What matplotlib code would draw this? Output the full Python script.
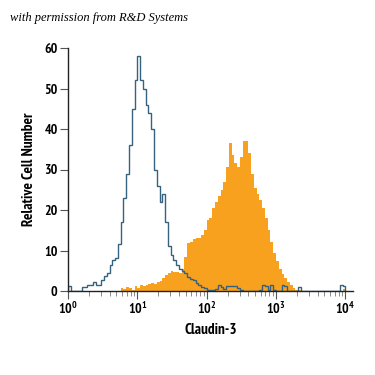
import numpy as np
import matplotlib
matplotlib.use("Agg")
import matplotlib.pyplot as plt
from matplotlib.ticker import FixedLocator, LogLocator, NullFormatter

# channel grid: 100 log channels over 4 decades
decade_step = 0.04
n_channels = 100

# isotype control (open, blue)
control_counts = [
    1.2, 0, 0, 0, 0, 1.0, 1.0, 1.5, 1.5, 2.3,
    1.5, 1.5, 2.7, 3.7, 4.5, 6.4, 7.7, 8.1, 11.5, 17,
    23, 29, 36, 45, 52, 58, 52, 50, 46, 44,
    40, 30, 26, 22, 24, 17, 11, 9, 7.7, 6.4,
    5.5, 5.0, 4.4, 3.5, 3.0, 2.7, 1.9, 1.5, 1.0, 0.7,
    0.3, 0.3, 0.3, 0.5, 1.5, 1.0, 0.5, 1.2, 1.2, 1.2,
    1.2, 0.8, 0.3, 0, 0, 0, 0, 0, 0, 0.3,
    1.5, 1.2, 0.3, 1.5, 0.3, 0, 0, 1.5, 1.2, 0,
    0, 0, 0, 1.0, 0, 0, 0, 0, 0, 0,
    0, 0, 0, 0, 0, 0, 0, 0, 1.5, 1.2,
]

# Claudin-3 stained (filled, orange)
claudin_counts = [
    0, 0, 0, 0, 0, 0, 0, 0, 0, 0,
    0, 0, 0, 0, 0, 0, 0, 0, 0, 0.8,
    0.5, 1.0, 0.8, 0.3, 1.2, 0.8, 1.5, 1.2, 1.5, 1.8,
    2.0, 1.8, 2.3, 2.5, 3.2, 4.0, 4.5, 5.0, 4.8, 4.6,
    4.4, 5.5, 8.5, 11.8, 12.2, 12.8, 13.0, 13.2, 13.8, 15.0,
    17.5, 18.0, 20.5, 22.0, 23.5, 25.0, 27.0, 30.5, 36.5, 33.5,
    31.5, 30.5, 33.0, 37.0, 37.0, 34.0, 29.0, 25.5, 24.0, 22.5,
    20.5, 18.0, 15.0, 12.0, 9.5, 7.3, 5.5, 4.2, 3.2, 2.2,
    1.4, 0.7, 0.3, 0.2, 0, 0, 0, 0, 0, 0,
    0, 0, 0, 0, 0, 0, 0, 0, 0, 0.5,
]

y_ticks = [0, 10, 20, 30, 40, 50, 60]
x_decades = [0, 1, 2, 3, 4]

narrow = ['PT Sans Narrow', 'Open Sans Condensed', 'DejaVu Sans']
plt.rcParams['font.family'] = narrow
plt.rcParams['mathtext.fontset'] = 'custom'
plt.rcParams['mathtext.rm'] = 'PT Sans Narrow'
plt.rcParams['mathtext.bf'] = 'PT Sans Narrow:bold'

edges = 10 ** (np.arange(n_channels + 1) * decade_step)

fig = plt.figure(figsize=(3.75, 3.75), dpi=100)
ax = fig.add_axes([68 / 375, 1 - 291 / 375, (353 - 68) / 375, (291 - 48) / 375])

ax.stairs(claudin_counts, edges, fill=True, color='#f7a11e', lw=0)
ax.stairs(control_counts, edges, color='#35627f', lw=1.0)

ax.set_xscale('log')
ax.set_xlim(1, 10 ** 4.11)
ax.set_ylim(0, 60)

ax.xaxis.set_major_locator(FixedLocator([10 ** d for d in x_decades]))
ax.set_xticklabels([r'$\mathbf{10^{%d}}$' % d for d in x_decades])
ax.xaxis.set_minor_locator(LogLocator(base=10, subs=np.arange(2, 10)))
ax.xaxis.set_minor_formatter(NullFormatter())
ax.set_yticks(y_ticks)
for lab in ax.get_yticklabels():
    lab.set_fontweight('bold')

for s in ['top', 'right']:
    ax.spines[s].set_visible(False)
for s in ['left', 'bottom']:
    ax.spines[s].set_linewidth(1.0)
    ax.spines[s].set_color('#222222')

ax.tick_params(axis='both', which='major', length=5.5, width=0.8, color='#555555',
               labelsize=10, pad=2)
ax.tick_params(axis='x', which='minor', length=3.5, width=0.6, color='#777777')

ax.set_xlabel('Claudin-3', fontsize=11, fontweight='bold', labelpad=4)
ax.set_ylabel('Relative Cell Number', fontsize=11, fontweight='bold', labelpad=6)

fig.text(0.027, 0.943, 'with permission from R&D Systems', fontsize=9,
         fontstyle='italic', family=['Liberation Serif', 'DejaVu Serif'])

fig.savefig('out.png', dpi=100)
